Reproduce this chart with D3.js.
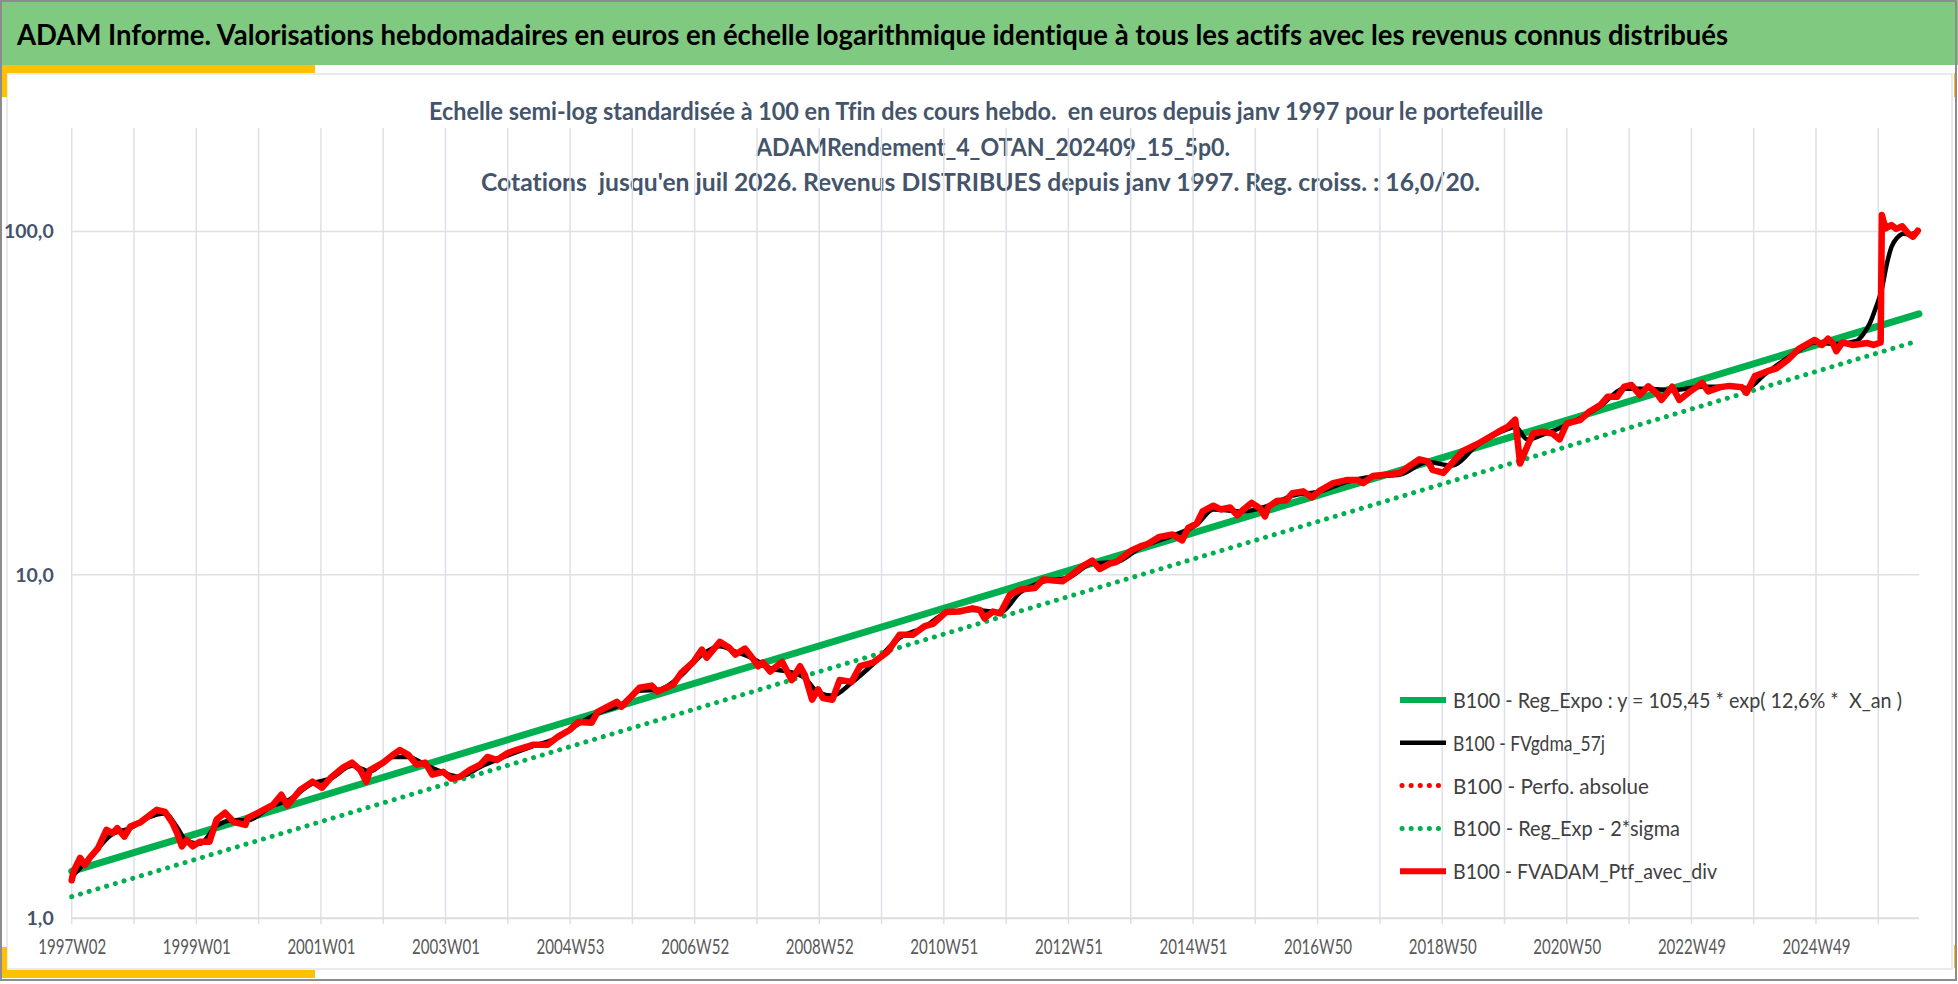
<!DOCTYPE html>
<html><head><meta charset="utf-8">
<script src="https://cdn.jsdelivr.net/npm/d3@7"></script>
<style>
body{margin:0;background:#fff;}
svg{display:block;}
text{font-family:Lato,"Liberation Sans",sans-serif;white-space:pre;font-variant-ligatures:none;}
</style>
</head><body>
<svg id="c" width="1958" height="984"></svg>
<script>
// ---------- DATA ----------
const titre = "ADAM Informe. Valorisations hebdomadaires en euros en échelle logarithmique identique à tous les actifs avec les revenus connus distribués";
const sousTitres = [
  "Echelle semi-log standardisée à 100 en Tfin des cours hebdo.  en euros depuis janv 1997 pour le portefeuille",
  "ADAMRendement_4_OTAN_202409_15_5p0.",
  "Cotations  jusqu'en juil 2026. Revenus DISTRIBUES depuis janv 1997. Reg. croiss. : 16,0/20."
];
// category index (weeks since 1997W02)
const nbSemaines = 1542;
const gridWeeks = [0,52,104,156,208,260,312,364,416,468,520,572,624,676,728,780,832,884,936,988,1040,1092,1144,1196,1248,1300,1352,1404,1456,1508];
const xTickWeeks = [0,104,208,312,416,520,624,728,832,936,1040,1144,1248,1352,1456];
const xTickLabels = ["1997W02","1999W01","2001W01","2003W01","2004W53","2006W52","2008W52","2010W51","2012W51","2014W51","2016W50","2018W50","2020W50","2022W49","2024W49"];
const yTickValues = [1,10,100];
const yTickLabels = ["1,0","10,0","100,0"];

// regression lines (start / end)
const regSemaines = [0,1542];
const regExpo = [1.37,57.5];
const regMoins2Sigma = [1.156,48.1];

// B100 - FVADAM_Ptf_avec_div (and Perfo. absolue)
const ptfSemaines = [0,2,7,11,15,22,29,34,38,44,49,57,63,71,78,84,88,92,96,101,107,115,121,128,135,145,147,157,168,175,180,191,201,209,216,226,234,241,246,249,260,268,274,281,288,295,301,310,317,324,332,341,347,355,364,372,385,397,406,416,423,434,439,455,459,474,484,489,502,509,519,526,530,541,549,554,562,569,573,577,583,593,601,608,612,618,623,627,635,641,651,658,669,681,691,702,712,719,730,741,752,758,762,769,775,783,792,804,811,827,833,844,852,858,867,872,885,892,898,908,919,927,932,939,944,953,959,967,973,978,985,992,996,999,1006,1014,1019,1028,1035,1042,1053,1065,1073,1078,1086,1098,1109,1117,1125,1132,1136,1145,1152,1161,1173,1181,1191,1199,1205,1209,1215,1220,1228,1236,1242,1248,1259,1267,1276,1282,1290,1296,1302,1309,1316,1323,1327,1336,1342,1352,1361,1366,1376,1384,1394,1398,1405,1415,1423,1432,1442,1455,1461,1466,1470,1473,1478,1487,1499,1504,1510,1511,1514,1519,1523,1528,1533,1537,1541];
const ptfValeurs = [1.29,1.38,1.50,1.43,1.50,1.60,1.81,1.77,1.83,1.73,1.85,1.90,1.97,2.07,2.04,1.90,1.77,1.62,1.69,1.62,1.67,1.67,1.94,2.03,1.91,1.87,1.96,2.04,2.14,2.29,2.13,2.37,2.50,2.40,2.56,2.74,2.84,2.70,2.50,2.70,2.84,2.99,3.09,2.99,2.80,2.84,2.62,2.67,2.55,2.58,2.70,2.80,2.95,2.89,3.03,3.10,3.20,3.20,3.38,3.54,3.73,3.71,3.99,4.27,4.13,4.69,4.76,4.57,4.79,5.19,5.58,6.06,5.74,6.38,6.13,5.86,6.10,5.68,5.42,5.55,5.23,5.58,4.94,5.42,5.11,4.33,4.64,4.38,4.33,4.94,4.88,5.42,5.55,5.97,6.69,6.69,7.09,7.20,7.80,7.82,7.99,7.90,7.47,7.82,7.72,8.74,9.07,9.15,9.69,9.58,9.89,10.6,11.0,10.4,10.8,10.9,11.8,12.1,12.3,12.9,13.1,12.6,13.7,14.1,15.3,15.9,15.5,15.7,14.9,15.5,16.2,15.6,14.8,15.8,16.4,16.5,17.3,17.5,16.8,17.6,18.5,18.9,18.9,18.5,19.4,19.6,19.8,20.8,21.7,21.4,20.2,19.8,21.1,22.9,24.0,24.9,26.1,27.0,28.3,21.1,23.7,25.8,26.1,25.8,24.8,27.6,28.2,29.9,31.2,33.0,33.0,35.3,35.7,33.4,35.4,33.8,32.3,35.3,32.3,34.4,36.2,34.2,35.2,35.5,35.2,33.9,37.9,39.1,39.9,42.1,45.6,48.3,46.7,48.7,47.3,44.8,47.5,46.7,47.3,46.7,47.5,111.6,102.0,104.3,101.7,103.5,98.6,96.5,100.5];

// B100 - FVgdma_57j
const gdmaSemaines = [0,11,22,34,49,63,78,88,96,107,121,135,147,168,180,201,216,234,249,268,281,295,310,324,341,364,385,406,423,439,459,474,489,509,526,541,554,569,583,601,612,623,635,651,669,691,712,730,752,775,792,811,833,852,872,892,919,939,953,978,999,1019,1042,1065,1086,1109,1132,1152,1173,1199,1205,1215,1228,1248,1276,1296,1316,1336,1361,1384,1398,1415,1442,1455,1473,1490,1496,1501,1506,1511,1515,1519,1524,1529,1534,1541];
const gdmaValeurs = [1.32,1.45,1.60,1.76,1.83,1.96,2.02,1.84,1.68,1.65,1.86,1.93,1.93,2.13,2.20,2.47,2.55,2.78,2.68,2.95,2.95,2.80,2.66,2.58,2.76,2.98,3.17,3.36,3.68,3.95,4.20,4.60,4.62,5.10,5.85,6.20,5.98,5.70,5.35,5.20,5.00,4.55,4.45,4.85,5.50,6.55,7.05,7.75,7.90,7.80,8.90,9.55,9.85,10.8,10.9,12.0,13.0,14.0,15.5,15.3,15.9,17.0,17.5,18.7,19.3,19.6,21.3,20.8,23.8,26.6,27.0,24.8,25.6,27.3,31.0,34.8,34.8,34.5,35.3,35.3,35.0,38.8,45.0,47.5,47.0,48.0,50.5,54,60,68,80,90,96,98.5,98,100];

const legendLabels = [
  "B100 - Reg_Expo : y = 105,45 * exp( 12,6% *  X_an )",
  "B100 - FVgdma_57j",
  "B100 - Perfo. absolue",
  "B100 - Reg_Exp - 2*sigma",
  "B100 - FVADAM_Ptf_avec_div"
];
const legendWidths = [449,152,196,227,264];

// ---------- STYLES ----------
const GREEN = "#00B050", RED = "#FF0000", BLACK = "#000000";
const GRID = "#DDE0E6";

const svg = d3.select("#c");

// frame
svg.append("rect").attr("x",0).attr("y",0).attr("width",1958).attr("height",984).attr("fill","#fff");
svg.append("rect").attr("x",0).attr("y",0).attr("width",1958).attr("height",65).attr("fill","#80C980");
svg.append("rect").attr("x",7).attr("y",74).attr("width",1945).attr("height",895)
  .attr("fill","#fff").attr("stroke","#E3E3E3").attr("stroke-width",1.5);
const Y = "#FFC000";
svg.append("rect").attr("x",0).attr("y",65).attr("width",315).attr("height",8).attr("fill",Y);
svg.append("rect").attr("x",0).attr("y",65).attr("width",7).attr("height",32).attr("fill",Y);
svg.append("rect").attr("x",0).attr("y",970).attr("width",315).attr("height",8).attr("fill",Y);
svg.append("rect").attr("x",0).attr("y",947).attr("width",7).attr("height",31).attr("fill",Y);
svg.append("rect").attr("x",1954).attr("y",73).attr("width",3).attr("height",24).attr("fill",Y);
svg.append("rect").attr("x",1954).attr("y",945).attr("width",3).attr("height",23).attr("fill",Y);
svg.append("rect").attr("x",1).attr("y",1).attr("width",1955).attr("height",979)
  .attr("fill","none").attr("stroke","#8C8C8C").attr("stroke-width",2);

// title
svg.append("text").attr("x",17).attr("y",45).text(titre)
  .attr("font-size",28).attr("font-weight","bold").attr("fill","#000")
  .attr("textLength",1711).attr("lengthAdjust","spacingAndGlyphs");

const subPos = [{x:429,y:120,w:1114},{x:756,y:156,w:474},{x:481,y:191,w:999}];
sousTitres.forEach((s,i)=>{
  svg.append("text").attr("x",subPos[i].x).attr("y",subPos[i].y).text(s)
    .attr("font-size",25).attr("font-weight","bold").attr("fill","#44546A")
    .attr("textLength",subPos[i].w).attr("lengthAdjust","spacingAndGlyphs");
});

// scales
const x = d3.scaleLinear().domain([0,nbSemaines]).range([71.7,1919]);
const y = d3.scaleLog().domain([1,200]).range([918.3,128]);

// gridlines
const g = svg.append("g");
g.selectAll("line.v").data(gridWeeks).join("line")
  .attr("x1",d=>x(d)).attr("x2",d=>x(d)).attr("y1",y(200)).attr("y2",y(1)+6)
  .attr("stroke",GRID).attr("stroke-width",1.5);
g.selectAll("line.h").data(yTickValues.slice(1)).join("line")
  .attr("x1",x(0)).attr("x2",x(nbSemaines)).attr("y1",d=>y(d)).attr("y2",d=>y(d))
  .attr("stroke",GRID).attr("stroke-width",1.5);
g.append("line").attr("x1",x(0)).attr("x2",x(nbSemaines)).attr("y1",y(1)).attr("y2",y(1))
  .attr("stroke","#D9DCE3").attr("stroke-width",2);

// axes labels
const xAxis = d3.axisBottom(x).tickValues(xTickWeeks)
  .tickFormat((d,i)=>xTickLabels[i]).tickSize(0).tickPadding(21);
const xa = svg.append("g").attr("transform",`translate(0,${y(1)})`).call(xAxis);
xa.select(".domain").remove();
xa.selectAll("text").attr("font-size",20.5).attr("fill","#595959")
  .attr("font-family","Lato, 'Liberation Sans', sans-serif")
  .attr("textLength",68).attr("lengthAdjust","spacingAndGlyphs");

const yAxis = d3.axisLeft(y).tickValues(yTickValues)
  .tickFormat((d,i)=>yTickLabels[i]).tickSize(0).tickPadding(18);
const ya = svg.append("g").attr("transform",`translate(${x(0)},0)`).call(yAxis);
ya.select(".domain").remove();
ya.selectAll("text").attr("font-size",19.5).attr("font-weight","bold").attr("fill","#44546A")
  .attr("font-family","Lato, 'Liberation Sans', sans-serif");

// series
const ptf = ptfSemaines.map((w,i)=>({w, v:ptfValeurs[i]}));
const gdma = gdmaSemaines.map((w,i)=>({w, v:gdmaValeurs[i]}));
const reg = regSemaines.map((w,i)=>({w, v:regExpo[i]}));
const reg2 = regSemaines.map((w,i)=>({w, v:regMoins2Sigma[i]}));

const line = d3.line().x(d=>x(d.w)).y(d=>y(d.v));
const lineSmooth = d3.line().x(d=>x(d.w)).y(d=>y(d.v)).curve(d3.curveMonotoneX);

const series = [
  {data:reg, gen:line, color:GREEN, width:7, dash:null, lw:6},
  {data:gdma, gen:lineSmooth, color:BLACK, width:4.5, dash:null, lw:4.5},
  {data:ptf, gen:line, color:RED, width:5, dash:"0.1,9", lw:5},
  {data:reg2, gen:line, color:GREEN, width:5, dash:"0.1,9", lw:5},
  {data:ptf, gen:line, color:RED, width:6.5, dash:null, lw:6}
];
series.forEach(s=>{
  svg.append("path").attr("d",s.gen(s.data)).attr("fill","none")
    .attr("stroke",s.color).attr("stroke-width",s.width)
    .attr("stroke-linejoin","round").attr("stroke-linecap","round")
    .attr("stroke-dasharray",s.dash);
});

// legend
const lg = svg.append("g");
legendLabels.forEach((lab,i)=>{
  const cy = 700 + i*42.8;
  const s = series[i];
  lg.append("line").attr("x1",s.dash?1402:1400).attr("x2",1446).attr("y1",cy).attr("y2",cy)
    .attr("stroke",s.color).attr("stroke-width",s.lw)
    .attr("stroke-linecap", s.dash?"round":"butt")
    .attr("stroke-dasharray",s.dash);
  lg.append("text").attr("x",1453).attr("y",cy+8).text(lab)
    .attr("font-size",22).attr("fill","#404040")
    .attr("textLength",legendWidths[i]).attr("lengthAdjust","spacingAndGlyphs");
});
</script>
</body></html>
